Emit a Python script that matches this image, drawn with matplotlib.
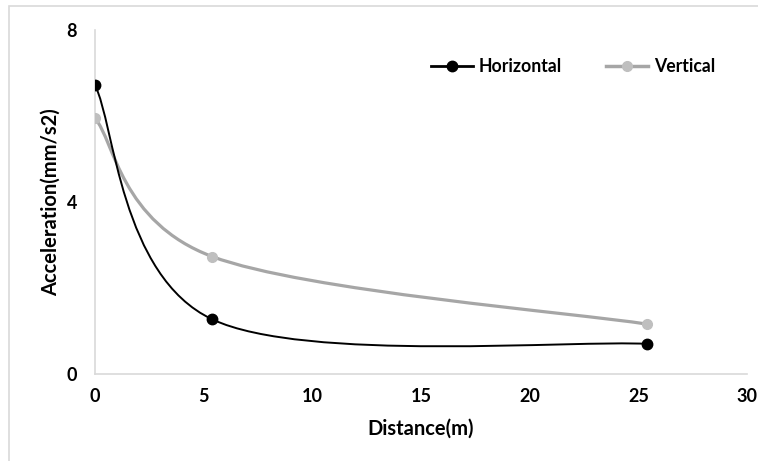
import matplotlib.pyplot as plt
from matplotlib.path import Path
from matplotlib.patches import PathPatch, Rectangle
from matplotlib.lines import Line2D

# ---------- Data ----------
distance = [0, 5.4, 25.4]
horizontal = [6.72, 1.27, 0.70]
vertical = [5.95, 2.73, 1.16]

x_ticks = [0, 5, 10, 15, 20, 25, 30]
y_ticks = [0, 4, 8]

black = "#000000"
grey_line = "#a6a6a6"
grey_dot = "#bfbfbf"

plt.rcParams["font.family"] = ["Lato", "DejaVu Sans"]


def smooth_path(xs, ys):
    # Excel-style smoothed line: Catmull-Rom spline as cubic Bezier segments
    pts = list(zip(xs, ys))
    ext = [pts[0]] + pts + [pts[-1]]
    verts = [pts[0]]
    codes = [Path.MOVETO]
    for i in range(1, len(ext) - 2):
        p0, p1, p2, p3 = ext[i - 1], ext[i], ext[i + 1], ext[i + 2]
        c1 = (p1[0] + (p2[0] - p0[0]) / 6, p1[1] + (p2[1] - p0[1]) / 6)
        c2 = (p2[0] - (p3[0] - p1[0]) / 6, p2[1] - (p3[1] - p1[1]) / 6)
        verts += [c1, c2, p2]
        codes += [Path.CURVE4] * 3
    return Path(verts, codes)


fig = plt.figure(figsize=(7.58, 4.61), dpi=100)
ax = fig.add_axes([95 / 758, 87 / 461, 652 / 758, 344 / 461])

# outer chart border (only top and left visible in the original)
fig.patches.append(Rectangle((9 / 758, -0.1), 1.2, (461 - 6) / 461 + 0.1,
                             transform=fig.transFigure, fill=False,
                             edgecolor="#d9d9d9", linewidth=1.2))

ax.add_patch(PathPatch(smooth_path(distance, vertical), fill=False,
                       edgecolor=grey_line, linewidth=2.3, zorder=2))
ax.add_patch(PathPatch(smooth_path(distance, horizontal), fill=False,
                       edgecolor=black, linewidth=1.4, zorder=3))
ax.plot(distance, vertical, "o", color=grey_dot, markersize=7, zorder=4)
ax.plot(distance, horizontal, "o", color=black, markersize=7.5, zorder=5)

ax.set_xlim(0, 30)
ax.set_ylim(0, 8)
ax.set_xticks(x_ticks)
ax.set_yticks(y_ticks)
ax.tick_params(length=0, labelsize=13)
ax.tick_params(axis="x", pad=10)
ax.tick_params(axis="y", pad=13)
for lbl in ax.get_xticklabels() + ax.get_yticklabels():
    lbl.set_fontweight("bold")

for side in ["top", "right"]:
    ax.spines[side].set_visible(False)
for side in ["left", "bottom"]:
    ax.spines[side].set_color("#d9d9d9")
    ax.spines[side].set_linewidth(1.2)

ax.set_xlabel("Distance(m)", fontsize=14.5, fontweight="bold", labelpad=10)
ax.set_ylabel("Acceleration(mm/s2)", fontsize=14.5, fontweight="bold", labelpad=4)

handles = [
    Line2D([], [], color=black, linewidth=2, marker="o", markersize=7.5),
    Line2D([], [], color=grey_line, linewidth=2.5, marker="o",
           markerfacecolor=grey_dot, markeredgecolor=grey_dot, markersize=7),
]
leg = ax.legend(handles, ["Horizontal", "Vertical"], ncol=2, frameon=False,
                loc="center", fontsize=12.7, handlelength=2.4,
                handletextpad=0.3, columnspacing=2.5)
leg.set_bbox_to_anchor((573 / 758, (461 - 67) / 461), transform=fig.transFigure)
for t in leg.get_texts():
    t.set_fontweight("bold")

fig.savefig("out.png", dpi=100)
